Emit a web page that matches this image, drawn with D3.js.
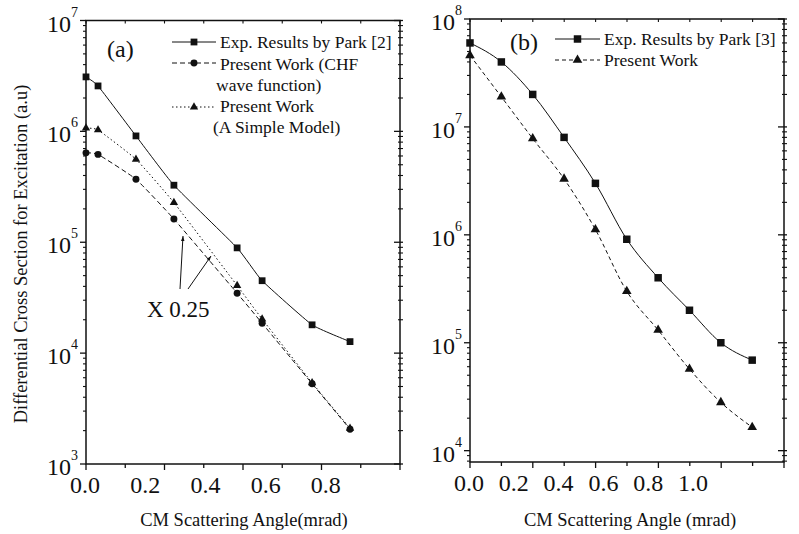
<!DOCTYPE html>
<html>
<head>
<meta charset="utf-8">
<script src="https://cdn.jsdelivr.net/npm/d3@7"></script>
<style>
  body { margin: 0; background: #fff; }
  svg text { font-family: "Liberation Serif", "Times New Roman", Times, "DejaVu Serif", "Noto Serif", serif; }
</style>
</head>
<body>
<div id="chart"></div>
<script>
// Panel (a) data
const angleA = [0, 0.04, 0.166, 0.292, 0.502, 0.585, 0.751, 0.877];
const expA = [3.1e6, 2.57e6, 9.1e5, 3.27e5, 8.9e4, 4.5e4, 1.8e4, 1.27e4];
const chfA = [6.4e5, 6.2e5, 3.7e5, 1.62e5, 3.47e4, 1.86e4, 5.3e3, 2.06e3];
const simpleA = [1.07e6, 1.03e6, 5.6e5, 2.28e5, 4.07e4, 2.03e4, 5.4e3, 2.1e3];

// Panel (b) data
const angleB = [0, 0.14, 0.28, 0.42, 0.56, 0.70, 0.84, 0.98, 1.12, 1.26];
const expB = [6.0e7, 4.0e7, 2.0e7, 8.0e6, 3.0e6, 9.1e5, 4.0e5, 2.0e5, 1.0e5, 6.9e4];
const presentB = [4.6e7, 1.9e7, 7.8e6, 3.3e6, 1.12e6, 3.0e5, 1.31e5, 5.7e4, 2.8e4, 1.65e4];

// Tick labels
const xLabelsA = [0, 0.2, 0.4, 0.6, 0.8];
const xLabelsB = [0, 0.2, 0.4, 0.6, 0.8, 1.0];
const yDecadesA = [3, 4, 5, 6, 7];
const yDecadesB = [4, 5, 6, 7, 8];

const width = 799;
const height = 534;

const svg = d3.select('#chart')
    .append('svg')
    .attr('width', width)
    .attr('height', height);

// arrow head for the "X 0.25" note
svg.append('defs').append('marker')
    .attr('id', 'arrow')
    .attr('viewBox', '0 0 10 10')
    .attr('refX', 10).attr('refY', 5)
    .attr('markerWidth', 7).attr('markerHeight', 5)
    .attr('markerUnits', 'userSpaceOnUse')
    .attr('orient', 'auto')
    .append('path')
    .attr('d', 'M0,1.5 L10,5 L0,8.5 Z')
    .attr('fill', '#111');

function drawPanel(cfg) {
    const x = d3.scaleLinear().domain([0, cfg.xMax]).range([cfg.left, cfg.right]);
    const y = d3.scaleLog().domain(cfg.yDomain).range([cfg.bottom, cfg.top]);
    const g = svg.append('g');

    // x tick marks (evenly spaced over the frame, majors every other one)
    const xTicks = d3.range(cfg.nx + 1).map(i => i * cfg.xMax / cfg.nx);
    xTicks.forEach((t, i) => {
        const len = i % 2 === 0 ? 6 : 4;
        g.append('line')
            .attr('x1', x(t)).attr('x2', x(t))
            .attr('y1', cfg.bottom).attr('y2', cfg.bottom + len)
            .attr('stroke', '#111').attr('stroke-width', 1.3);
        g.append('line')
            .attr('x1', x(t)).attr('x2', x(t))
            .attr('y1', cfg.top).attr('y2', cfg.top + 3)
            .attr('stroke', '#111').attr('stroke-width', 1.1);
    });

    // x labels
    g.selectAll('.xl')
        .data(cfg.xLabels)
        .enter()
        .append('text')
        .attr('x', d => x(d) - 1)
        .attr('y', cfg.bottom + 29)
        .attr('text-anchor', 'middle')
        .attr('font-size', 24)
        .attr('fill', '#111')
        .text(d => d.toFixed(1));

    // y ticks: majors at decades, minors 2..9
    const [lo, hi] = cfg.yDomain;
    const minors = [];
    for (let d = Math.floor(Math.log10(lo)); d < Math.ceil(Math.log10(hi)); d++) {
        for (let k = 2; k <= 9; k++) {
            const v = k * Math.pow(10, d);
            if (v > lo && v < hi) minors.push(v);
        }
    }
    minors.forEach(v => {
        g.append('line')
            .attr('x1', cfg.left - 3).attr('x2', cfg.left)
            .attr('y1', y(v)).attr('y2', y(v))
            .attr('stroke', '#111').attr('stroke-width', 1.1);
        g.append('line')
            .attr('x1', cfg.right - 2).attr('x2', cfg.right + 3)
            .attr('y1', y(v)).attr('y2', y(v))
            .attr('stroke', '#111').attr('stroke-width', 1.1);
    });
    cfg.yDecades.forEach(e => {
        const v = Math.pow(10, e);
        g.append('line')
            .attr('x1', cfg.left - 6).attr('x2', cfg.left)
            .attr('y1', y(v)).attr('y2', y(v))
            .attr('stroke', '#111').attr('stroke-width', 1.3);
        g.append('line')
            .attr('x1', cfg.right - 6).attr('x2', cfg.right + 3)
            .attr('y1', y(v)).attr('y2', y(v))
            .attr('stroke', '#111').attr('stroke-width', 1.3);
        const t = g.append('text')
            .attr('x', cfg.left - 8)
            .attr('y', y(v) + 11)
            .attr('text-anchor', 'end')
            .attr('font-size', 24)
            .attr('fill', '#111');
        t.append('tspan').text('10');
        t.append('tspan')
            .attr('font-size', 14)
            .attr('dy', -15)
            .text(e);
    });

    // frame
    g.append('rect')
        .attr('x', cfg.left).attr('y', cfg.top)
        .attr('width', cfg.right - cfg.left)
        .attr('height', cfg.bottom - cfg.top)
        .attr('fill', 'none')
        .attr('stroke', '#111')
        .attr('stroke-width', 1.5);

    // series
    cfg.series.forEach(s => {
        const pts = s.angle.map((a, i) => [a, s.values[i]]);
        const line = d3.line()
            .x(d => x(d[0]))
            .y(d => y(d[1]))
            .curve(cfg.curve);
        g.append('path')
            .attr('d', line(pts))
            .attr('fill', 'none')
            .attr('stroke', '#111')
            .attr('stroke-width', 1)
            .attr('stroke-dasharray', s.dash);
        g.selectAll(null)
            .data(pts)
            .enter()
            .append('path')
            .attr('transform', d => `translate(${x(d[0])},${y(d[1])})`)
            .attr('d', d3.symbol().type(s.symbol).size(s.size))
            .attr('fill', '#111');
    });

    // legend
    cfg.legend.forEach(l => {
        g.append('line')
            .attr('x1', l.x1).attr('x2', l.x2)
            .attr('y1', l.y).attr('y2', l.y)
            .attr('stroke', '#111').attr('stroke-width', 1)
            .attr('stroke-dasharray', l.s.dash);
        g.append('path')
            .attr('transform', `translate(${(l.x1 + l.x2) / 2},${l.y})`)
            .attr('d', d3.symbol().type(l.s.symbol).size(l.s.size))
            .attr('fill', '#111');
        l.lines.forEach(tl => {
            g.append('text')
                .attr('x', tl[0]).attr('y', tl[1])
                .attr('font-size', 17.5)
                .attr('fill', '#111')
                .text(tl[2]);
        });
    });

    // panel letter
    g.append('text')
        .attr('x', cfg.letter[0]).attr('y', cfg.letter[1])
        .attr('font-size', 24)
        .attr('fill', '#111')
        .text(cfg.letter[2]);

    // x title
    g.append('text')
        .attr('x', cfg.xTitle[0]).attr('y', 526)
        .attr('text-anchor', 'middle')
        .attr('font-size', 18.5)
        .attr('fill', '#111')
        .text(cfg.xTitle[1]);

    return { x, y, g };
}

const expStyleA = { dash: null, symbol: d3.symbolSquare, size: 46 };
const chfStyleA = { dash: '5,3', symbol: d3.symbolCircle, size: 38 };
const simpleStyleA = { dash: '1.5,2.5', symbol: d3.symbolTriangle, size: 30 };

const panelA = drawPanel({
    left: 86, right: 400, top: 20.5, bottom: 464,
    xMax: 1.043, nx: 8,
    yDomain: [1e3, 1e7],
    curve: d3.curveCardinal.tension(0.6),
    xLabels: xLabelsA, yDecades: yDecadesA,
    series: [
        Object.assign({ angle: angleA, values: expA }, expStyleA),
        Object.assign({ angle: angleA, values: chfA }, chfStyleA),
        Object.assign({ angle: angleA, values: simpleA }, simpleStyleA)
    ],
    legend: [
        { x1: 172, x2: 216, y: 42, s: expStyleA, lines: [[220, 48, 'Exp. Results by Park [2]']] },
        { x1: 172, x2: 216, y: 63, s: chfStyleA, lines: [[220, 70, 'Present Work (CHF'], [216, 91, 'wave function)']] },
        { x1: 172, x2: 216, y: 107, s: simpleStyleA, lines: [[220, 112, 'Present Work'], [213, 133, '(A Simple Model)']] }
    ],
    letter: [107, 57, '(a)'],
    xTitle: [244, 'CM Scattering Angle(mrad)']
});

const expStyleB = { dash: null, symbol: d3.symbolSquare, size: 56 };
const presentStyleB = { dash: '4,3', symbol: d3.symbolTriangle, size: 40 };

drawPanel({
    left: 470, right: 784, top: 19, bottom: 462,
    xMax: 1.402, nx: 10,
    yDomain: [Math.pow(10, 3.895), 1e8],
    curve: d3.curveMonotoneX,
    xLabels: xLabelsB, yDecades: yDecadesB,
    series: [
        Object.assign({ angle: angleB, values: expB }, expStyleB),
        Object.assign({ angle: angleB, values: presentB }, presentStyleB)
    ],
    legend: [
        { x1: 555, x2: 600, y: 39, s: expStyleB, lines: [[604, 45, 'Exp. Results by Park [3]']] },
        { x1: 555, x2: 600, y: 60, s: presentStyleB, lines: [[604, 66, 'Present Work']] }
    ],
    letter: [510, 50, '(b)'],
    xTitle: [630, 'CM Scattering Angle (mrad)']
});

// "X 0.25" note with two arrows, in panel (a)
panelA.g.append('text')
    .attr('x', 147).attr('y', 317)
    .attr('font-size', 23)
    .attr('fill', '#111')
    .text('X 0.25');
panelA.g.append('line')
    .attr('x1', 180).attr('y1', 289).attr('x2', 183).attr('y2', 236)
    .attr('stroke', '#111').attr('stroke-width', 1)
    .attr('marker-end', 'url(#arrow)');
panelA.g.append('line')
    .attr('x1', 188).attr('y1', 289).attr('x2', 211).attr('y2', 256)
    .attr('stroke', '#111').attr('stroke-width', 1)
    .attr('marker-end', 'url(#arrow)');

// shared y title
svg.append('text')
    .attr('transform', 'translate(27,254) rotate(-90)')
    .attr('text-anchor', 'middle')
    .attr('font-size', 18.5)
    .attr('fill', '#111')
    .text('Differential Cross Section for Excitation (a.u)');
</script>
</body>
</html>
